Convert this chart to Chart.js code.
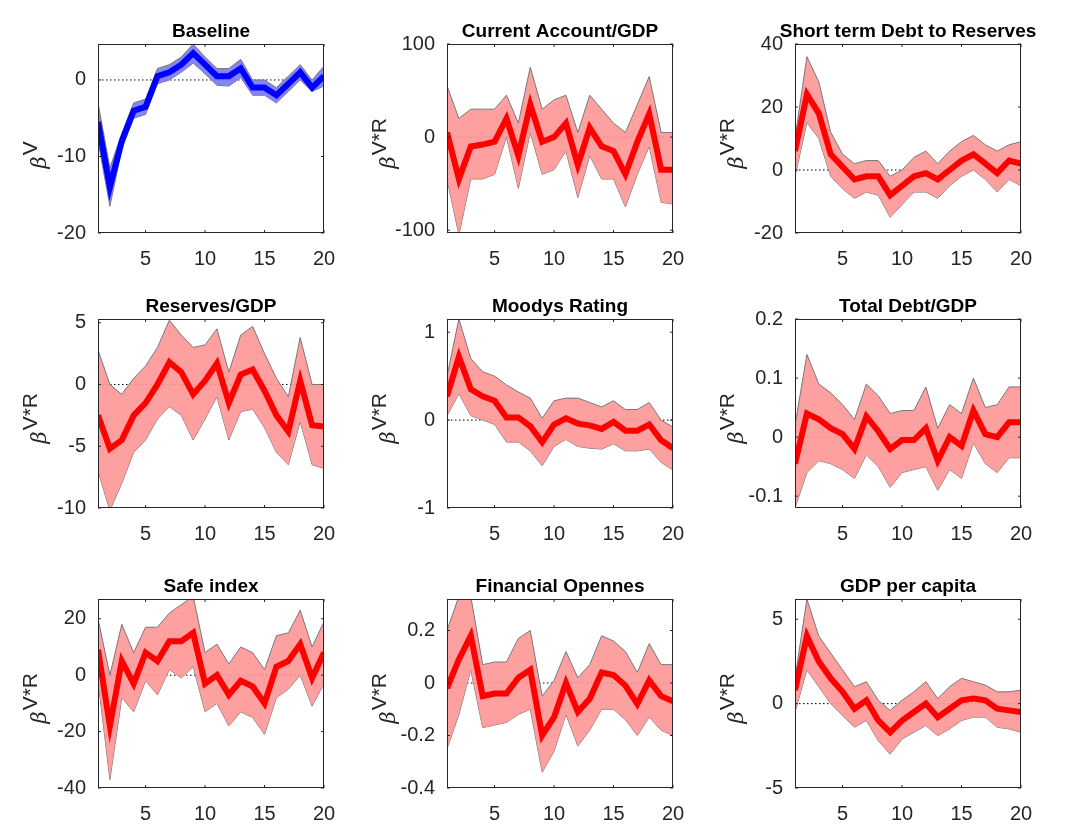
<!DOCTYPE html>
<html>
<head>
<meta charset="utf-8">
<script src="https://cdn.jsdelivr.net/npm/chart.js@4.4.1/dist/chart.umd.min.js"></script>
<style>
body { margin:0; background:#fff; width:1066px; height:825px; position:relative; overflow:hidden; }
.box { position:absolute; }
</style>
</head>
<body>
<script>
// horizons 1..20
const horizon = [1,2,3,4,5,6,7,8,9,10,11,12,13,14,15,16,17,18,19,20];

const titles = ['Baseline','Current Account/GDP','Short term Debt to Reserves','Reserves/GDP','Moodys Rating','Total Debt/GDP','Safe index','Financial Opennes','GDP per capita'];

const baseMean = [-5.5,-14,-8,-4,-3.5,0.5,1,2,3.5,2,0.5,0.5,1.5,-1,-1,-2,-0.5,1,-1,0.5];
const baseUp   = [-3,-11.5,-7,-3,-2.5,1.5,2,3,4.7,3,1.5,1.5,2.7,0,0,-1,0.5,2,0,1.8];
const baseLo   = [-8,-16.5,-9,-5,-4.5,-0.5,0,1,2.2,0.8,-0.7,-0.8,0.3,-2,-2,-3,-1.5,0,-1.5,-0.8];

const caMean = [5,-45,-10,-8,-5,20,-20,35,-5,0,15,-30,10,-10,-15,-40,-5,25,-35,-35];
const caUp   = [55,20,30,30,30,45,15,75,30,40,45,5,45,30,15,5,35,65,5,5];
const caLo   = [-45,-105,-45,-45,-40,0,-55,5,-40,-35,-15,-65,-20,-45,-45,-75,-40,-10,-70,-72];

const stdMean = [6,24,18,5,1,-3,-2,-2,-8,-5,-2,-1,-3,0,3,5,2,-1,3,2];
const stdUp   = [10,36,28,12,5,2,3,3,-2,0,4,6,2,6,9,11,8,6,8,9];
const stdLo   = [-2,15,10,-2,-6,-9,-7,-8,-15,-11,-7,-7,-9,-5,-2,0,-3,-7,-3,-5];

const resMean = [-2.5,-5.2,-4.5,-2.5,-1.5,0,1.8,1,-0.8,0.3,1.7,-1.5,0.8,1.2,-0.5,-2.5,-3.8,0.3,-3.3,-3.4];
const resUp   = [2.8,0,-0.8,0.5,1.5,3,5.2,4,3,3.2,4.5,1,4,4.7,2.5,0.5,-1,3.8,0,0];
const resLo   = [-7,-10.2,-8,-5.5,-4.5,-2.8,-1.8,-2.5,-4.5,-2.8,-1,-4.5,-2.2,-2,-3.5,-5.5,-6.5,-3,-6.5,-6.8];

const mooMean = [0.27,0.72,0.35,0.27,0.22,0.03,0.03,-0.07,-0.25,-0.05,0.02,-0.04,-0.06,-0.1,-0.02,-0.12,-0.12,-0.05,-0.23,-0.32];
const mooUp   = [0.5,1.15,0.7,0.55,0.5,0.4,0.32,0.25,0.02,0.22,0.25,0.25,0.2,0.15,0.22,0.12,0.12,0.2,0,-0.08];
const mooLo   = [0.05,0.3,0.05,0,-0.05,-0.25,-0.25,-0.35,-0.52,-0.3,-0.22,-0.3,-0.32,-0.33,-0.27,-0.35,-0.35,-0.33,-0.48,-0.57];

const tdMean = [-0.045,0.04,0.03,0.015,0.005,-0.02,0.035,0.01,-0.02,-0.005,-0.005,0.015,-0.04,0,-0.015,0.045,0.005,0,0.025,0.025];
const tdUp   = [0.02,0.14,0.09,0.075,0.055,0.03,0.09,0.07,0.04,0.045,0.045,0.085,0.015,0.055,0.04,0.1,0.05,0.055,0.085,0.085];
const tdLo   = [-0.12,-0.06,-0.04,-0.045,-0.055,-0.07,-0.03,-0.05,-0.085,-0.06,-0.055,-0.05,-0.09,-0.055,-0.07,-0.01,-0.045,-0.06,-0.035,-0.035];

const safeMean = [9,-18,5,-3,8,5,12,12,15,-3,0,-7,-2,-4,-10,3,5,11,-1,8];
const safeUp   = [20,0,18,8,17,17,22,25,28,8,11,4,10,8,2,14,15,23,10,19];
const safeLo   = [-2,-37,-8,-13,-2,-7,2,-1,3,-13,-10,-18,-13,-15,-21,-8,-5,0,-11,-3];

const foMean = [-0.02,0.09,0.18,-0.05,-0.04,-0.04,0.02,0.05,-0.2,-0.13,0,-0.11,-0.06,0.04,0.03,-0.01,-0.08,0.01,-0.05,-0.07];
const foUp   = [0.2,0.33,0.33,0.07,0.08,0.08,0.17,0.2,-0.05,0.01,0.12,0.02,0.07,0.18,0.16,0.12,0.04,0.15,0.07,0.07];
const foLo   = [-0.25,-0.12,0.05,-0.17,-0.16,-0.15,-0.12,-0.1,-0.34,-0.26,-0.12,-0.24,-0.18,-0.1,-0.1,-0.14,-0.2,-0.13,-0.18,-0.2];

const gdpMean = [0.8,4,2.5,1.5,0.7,-0.3,0.2,-1,-1.7,-1,-0.5,0,-0.8,-0.3,0.2,0.3,0.2,-0.3,-0.4,-0.5];
const gdpUp   = [1.5,6.2,4,3,2,1,1.3,0.2,-0.4,0.2,0.7,1.3,0.3,1,1.5,1.3,1.1,0.7,0.7,0.8];
const gdpLo   = [-0.5,2,1,0,-0.7,-1.4,-1,-2.2,-3,-2.1,-1.7,-1.3,-1.9,-1.5,-1,-0.8,-0.8,-1.4,-1.5,-1.7];

// y ticks per panel
const yTicks = [[-20,-10,0],[-100,0,100],[-20,0,20,40],[-10,-5,0,5],[-1,0,1],[-0.1,0,0.1,0.2],[-40,-20,0,20],[-0.4,-0.2,0,0.2],[-5,0,5]];
const yRange = [[-20,4.7],[-103,100],[-20,40],[-10,5.3],[-1,1.15],[-0.12,0.2],[-40,27],[-0.4,0.32],[-5,6.2]];
const xTicks = [5,10,15,20];

const panels = [
  [baseMean,baseUp,baseLo],[caMean,caUp,caLo],[stdMean,stdUp,stdLo],
  [resMean,resUp,resLo],[mooMean,mooUp,mooLo],[tdMean,tdUp,tdLo],
  [safeMean,safeUp,safeLo],[foMean,foUp,foLo],[gdpMean,gdpUp,gdpLo]
];

const colLeft = [98,447,795];
const rowTop = [44,319,599];
const plotW = 226, plotH = 189;
const padL = 80, padT = 40, padR = 20, padB = 40;

const decor = {
  id: 'decor',
  beforeDatasetsDraw(chart) {
    const {ctx, chartArea:a, scales:{y}} = chart;
    const z = y.getPixelForValue(0);
    ctx.save();
    ctx.strokeStyle = '#000'; ctx.lineWidth = 1; ctx.setLineDash([1.5,2.5]);
    ctx.beginPath(); ctx.moveTo(a.left, z); ctx.lineTo(a.right, z); ctx.stroke();
    ctx.restore();
  },
  afterDraw(chart) {
    const {ctx, chartArea:a} = chart;
    const o = chart.options.plugins.decor;
    ctx.save();
    ctx.strokeStyle = '#262626'; ctx.lineWidth = 1;
    ctx.strokeRect(a.left+0.5, a.top+0.5, a.width-1, a.height-1);
    // small inward ticks
    ctx.beginPath();
    chart.scales.x.ticks.forEach(t => { const px = chart.scales.x.getPixelForValue(t.value); ctx.moveTo(px,a.bottom); ctx.lineTo(px,a.bottom-3); ctx.moveTo(px,a.top); ctx.lineTo(px,a.top+3); });
    chart.scales.y.ticks.forEach(t => { const py = chart.scales.y.getPixelForValue(t.value); ctx.moveTo(a.left,py); ctx.lineTo(a.left+3,py); ctx.moveTo(a.right,py); ctx.lineTo(a.right-3,py); });
    ctx.stroke();
    // title
    ctx.fillStyle = '#000'; ctx.font = 'bold 19px "Liberation Sans", Arial';
    ctx.textAlign = 'center'; ctx.textBaseline = 'bottom';
    ctx.fillText(o.title, (a.left+a.right)/2, a.top-3);
    // y label
    ctx.translate(a.left-52, (a.top+a.bottom)/2 + 30);
    ctx.rotate(-Math.PI/2);
    ctx.fillStyle = '#262626'; ctx.textAlign = 'left'; ctx.textBaseline = 'alphabetic';
    ctx.font = 'italic 21px "DejaVu Serif", serif';
    ctx.fillText('β', 0, 0);
    const w = ctx.measureText('β').width;
    ctx.font = '21px "Liberation Sans", Arial';
    ctx.fillText(o.sup, w+1, -9);
    ctx.restore();
  }
};

panels.forEach((p, i) => {
  const r = Math.floor(i/3), c = i%3;
  const div = document.createElement('div');
  div.className = 'box';
  div.style.left = (colLeft[c]-padL) + 'px';
  div.style.top = (rowTop[r]-padT) + 'px';
  div.style.width = (plotW+padL+padR) + 'px';
  div.style.height = (plotH+padT+padB) + 'px';
  const cv = document.createElement('canvas');
  div.appendChild(cv);
  document.body.appendChild(div);
  const blue = i === 0;
  const toXY = arr => arr.map((v,k) => ({x: horizon[k], y: v}));
  new Chart(cv, {
    type: 'line',
    data: {
      datasets: [
        { data: toXY(p[0]), borderColor: blue ? '#0000ff' : '#ff0000', borderWidth: 6, pointRadius: 0, tension: 0, fill: false, order: 0 },
        { data: toXY(p[1]), borderColor: '#777', borderWidth: 1, pointRadius: 0, tension: 0,
          fill: '+1', backgroundColor: blue ? 'rgba(120,120,245,0.9)' : 'rgba(255,150,150,0.9)', order: 1 },
        { data: toXY(p[2]), borderColor: '#777', borderWidth: 1, pointRadius: 0, tension: 0, fill: false, order: 2 }
      ]
    },
    options: {
      responsive: true, maintainAspectRatio: false, animation: false,
      layout: { padding: { top: padT, right: padR, left: 0, bottom: 0 } },
      plugins: { legend: { display: false }, tooltip: { enabled: false },
        decor: { title: titles[i], sup: blue ? 'V' : 'V*R' } },
      scales: {
        x: { type: 'linear', min: 1, max: 20,
          grid: { display: false }, border: { display: false },
          afterBuildTicks: s => { s.ticks = xTicks.map(v => ({value: v})); },
          afterFit: s => { s.height = padB; },
          ticks: { color: '#262626', font: { size: 20, family: '"Liberation Sans", Arial' }, maxRotation: 0, padding: 6 } },
        y: { min: yRange[i][0], max: yRange[i][1],
          grid: { display: false }, border: { display: false },
          afterBuildTicks: s => { s.ticks = yTicks[i].map(v => ({value: v})); },
          afterFit: s => { s.width = padL; },
          ticks: { color: '#262626', font: { size: 20, family: '"Liberation Sans", Arial' }, padding: 4 } }
      }
    },
    plugins: [decor]
  });
});
</script>
</body>
</html>
